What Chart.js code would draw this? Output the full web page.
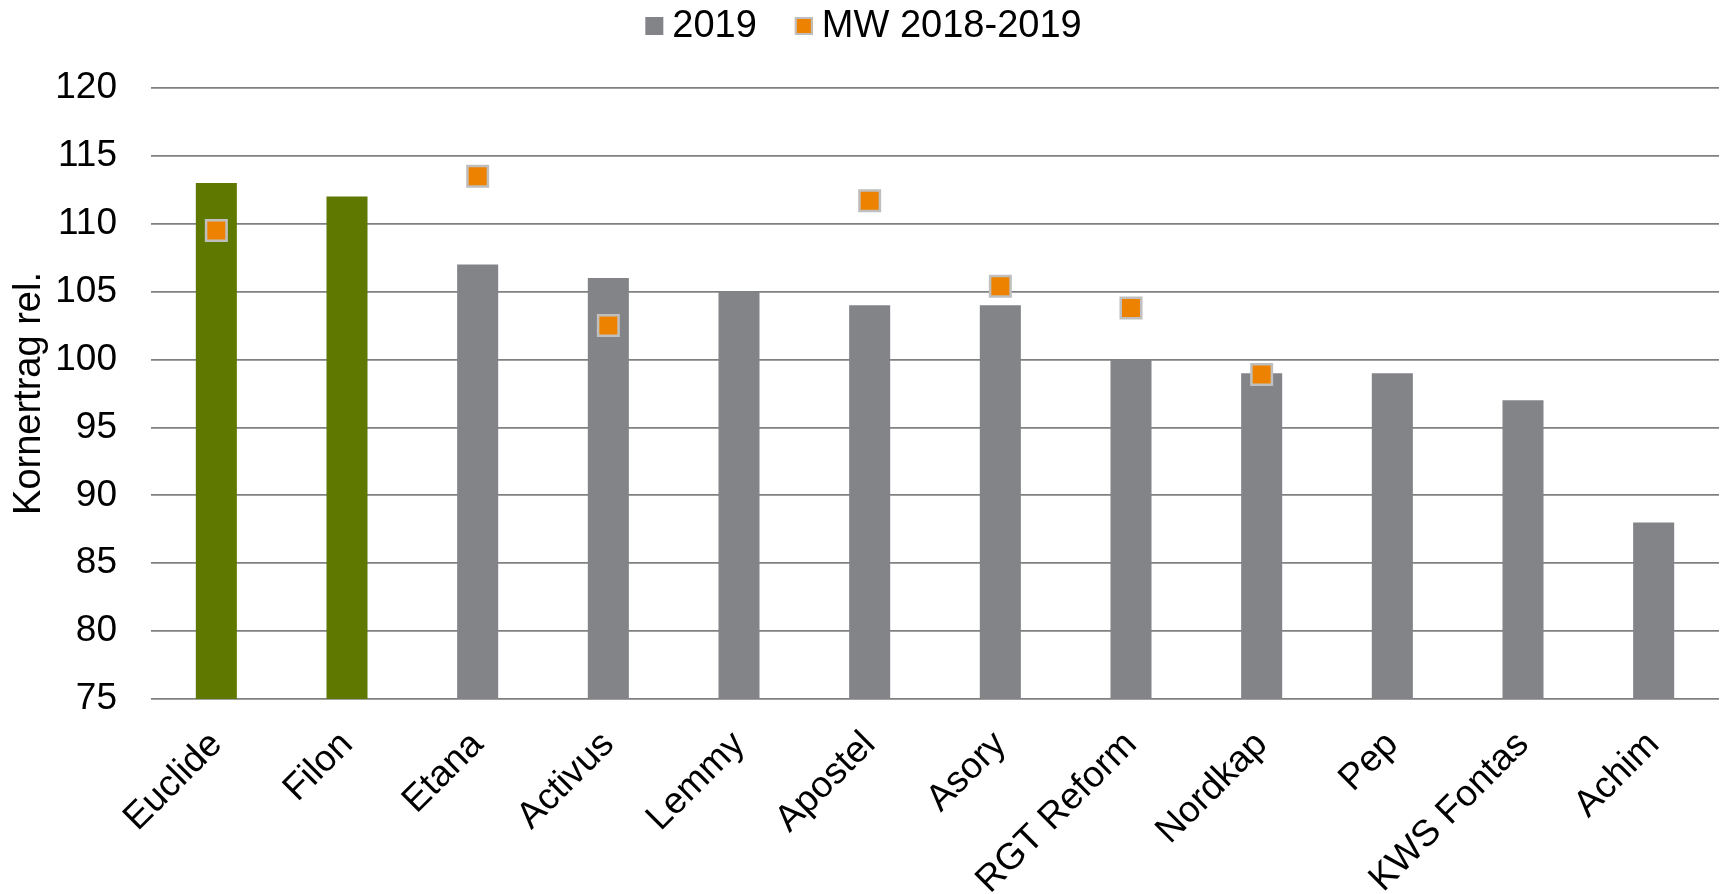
<!DOCTYPE html>
<html>
<head>
<meta charset="utf-8">
<script src="https://cdn.jsdelivr.net/npm/chart.js@4"></script>
<style>
html,body{margin:0;padding:0;background:#fff;}
#wrap{width:1721px;height:894px;position:relative;}
</style>
</head>
<body>
<div id="wrap"><canvas id="c" width="1721" height="894"></canvas></div>
<script>
const categories = ["Euclide","Filon","Etana","Activus","Lemmy","Apostel","Asory","RGT Reform","Nordkap","Pep","KWS Fontas","Achim"];
const values2019 = [113,112,107,106,105,104,104,100,99,99,97,88];
const valuesMW = [109.5,null,113.5,102.5,null,111.7,105.4,103.8,98.9,null,null,null];
const barColors = ["#5F7800","#5F7800","#838488","#838488","#838488","#838488","#838488","#838488","#838488","#838488","#838488","#838488"];
const yTicks = [75,80,85,90,95,100,105,110,115,120];
const seriesNames = ["2019","MW 2018-2019"];

const FONT = "'Liberation Sans', Arial, sans-serif";
const FS = 37;

const legendPlugin = {
  id: 'customLegend',
  afterDraw(chart) {
    const ctx = chart.ctx;
    ctx.save();
    ctx.font = "38px " + FONT;
    ctx.textBaseline = 'middle';
    ctx.textAlign = 'left';
    const box = 18, gapText = 9, gapItem = 38;
    const items = [
      {text: seriesNames[0], fill: "#838488", stroke: null},
      {text: seriesNames[1], fill: "#ED8200", stroke: "#BFBFBF"}
    ];
    let total = 0;
    items.forEach((it, i) => { it.w = ctx.measureText(it.text).width; total += box + gapText + it.w + (i ? gapItem : 0); });
    let x = (chart.width - total) / 2 + 3;
    const cy = 26;
    items.forEach((it, i) => {
      if (i) x += gapItem;
      ctx.fillStyle = it.fill;
      ctx.fillRect(x, cy - box/2, box, box);
      if (it.stroke) { ctx.strokeStyle = it.stroke; ctx.lineWidth = 2; ctx.strokeRect(x+1, cy - box/2 + 1, box-2, box-2); }
      ctx.fillStyle = '#000';
      ctx.fillText(it.text, x + box + gapText, cy + 1);
      x += box + gapText + it.w;
    });
    ctx.restore();
  }
};

new Chart(document.getElementById('c'), {
  type: 'bar',
  data: {
    labels: categories,
    datasets: [
      {
        type: 'line',
        label: seriesNames[1],
        data: valuesMW,
        showLine: false,
        pointStyle: 'rect',
        pointRadius: 14.5,
        pointHoverRadius: 14.5,
        pointBackgroundColor: '#ED8200',
        pointBorderColor: '#BFBFBF',
        pointBorderWidth: 2.5,
        order: 0
      },
      {
        type: 'bar',
        label: seriesNames[0],
        data: values2019,
        backgroundColor: barColors,
        borderWidth: 0,
        categoryPercentage: 1,
        barPercentage: 0.314,
        order: 1
      }
    ]
  },
  options: {
    responsive: false,
    animation: false,
    events: [],
    layout: { autoPadding: false, padding: { top: 88, right: 2, left: 0, bottom: 0 } },
    plugins: { legend: { display: false }, tooltip: { enabled: false } },
    scales: {
      x: {
        offset: true,
        grid: { display: false, drawTicks: false },
        border: { display: false },
        ticks: {
          font: { family: FONT, size: FS },
          color: '#000',
          minRotation: 45,
          maxRotation: 45,
          padding: 24,
          autoSkip: false
        },
        afterFit(s) { s.height = 195; s.paddingLeft = 0; s.paddingRight = 0; }
      },
      y: {
        min: 75,
        max: 120,
        afterBuildTicks(s) { s.ticks = yTicks.map(v => ({ value: v })); },
        grid: { color: '#808080', lineWidth: 1.8, drawTicks: false },
        border: { display: false },
        ticks: {
          font: { family: FONT, size: FS },
          color: '#000',
          padding: 34
        },
        title: {
          display: true,
          text: 'Kornertrag rel.',
          font: { family: FONT, size: 38 },
          color: '#000',
          padding: { top: 7, bottom: 0 }
        },
        afterFit(s) { s.width = 151; }
      }
    }
  },
  plugins: [legendPlugin]
});
</script>
</body>
</html>
